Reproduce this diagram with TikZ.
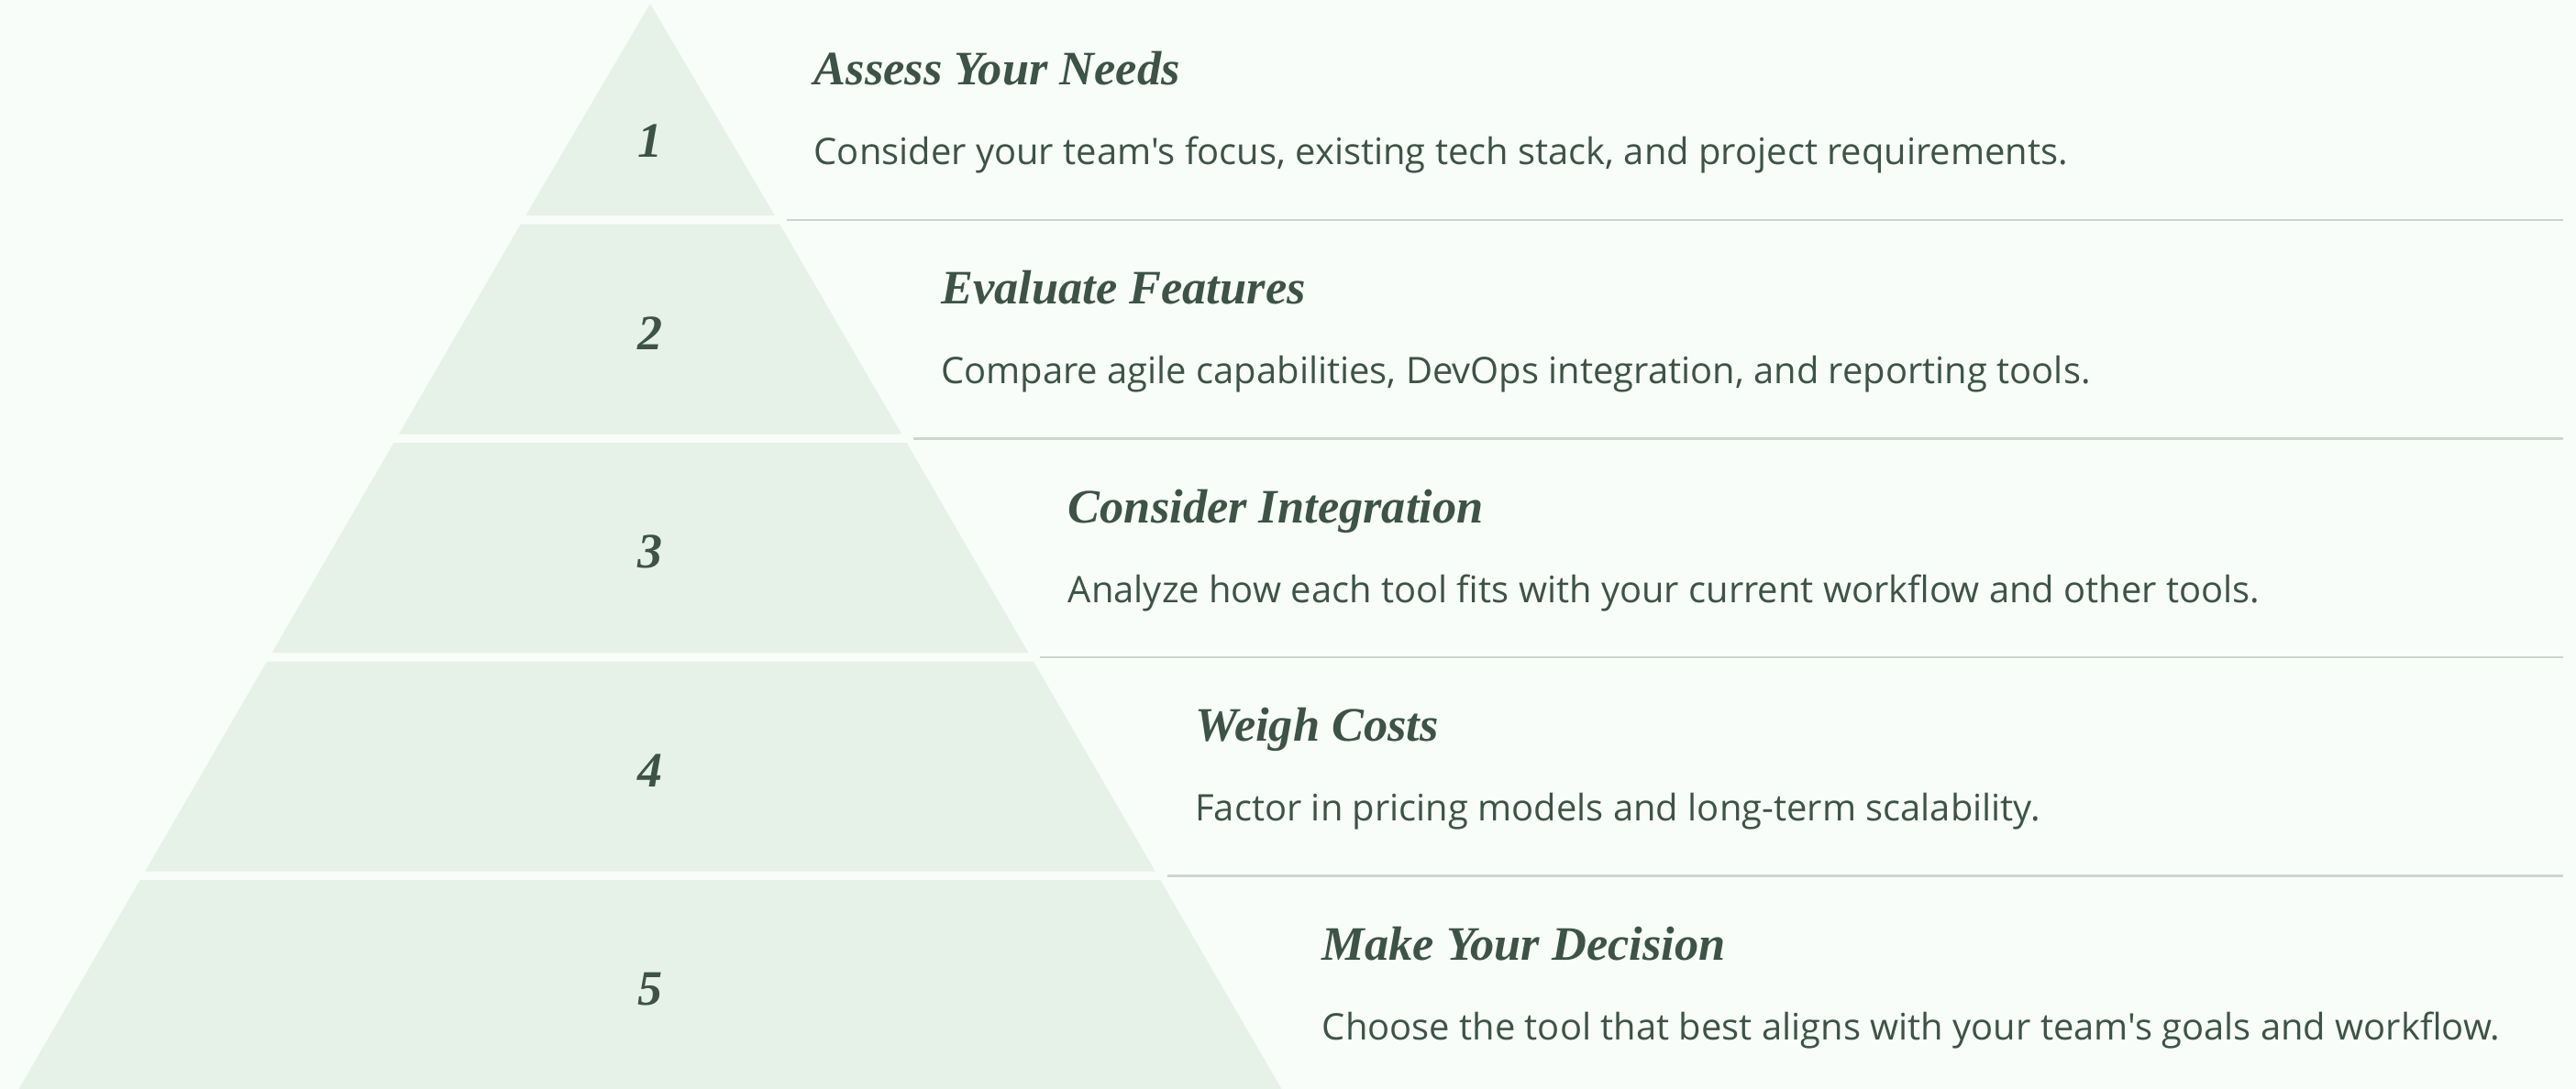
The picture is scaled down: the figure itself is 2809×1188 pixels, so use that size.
\documentclass[tikz,border=0pt]{standalone}
\usepackage{fontspec}
\setmainfont{Liberation Serif}
\newfontfamily\descfont{Open Sans}
\definecolor{pageBg}{RGB}{248,253,249}
\definecolor{tierFill}{RGB}{230,241,231}
\definecolor{ruleGrey}{RGB}{204,214,205}
\definecolor{inkGreen}{RGB}{61,83,71}

\begin{document}
\begin{tikzpicture}[x=0.25pt,y=0.25pt,yscale=-1,xscale=1,
  tier/.style={fill=tierFill,draw=none},
  sep/.style={draw=ruleGrey,line width=0.6pt},
  stepnum/.style={inner sep=0pt,text=inkGreen,font=\fontsize{13.5}{16}\selectfont\bfseries\itshape},
  steptitle/.style={anchor=base west,inner sep=0pt,text=inkGreen,font=\fontsize{13.1}{15}\selectfont\bfseries\itshape},
  stepdesc/.style={anchor=base west,inner sep=0pt,text=inkGreen,font=\descfont\fontsize{9.98}{12}\selectfont}]
%background, sets the size of the whole diagram
\fill[pageBg] (0,0) rectangle (2809,1188);
\useasboundingbox (0,0) rectangle (2809,1188);

%Shape: Tier 1 (top)
\fill[tier] (709,4) -- (844.7,235) -- (573.3,235) -- cycle ;
%Shape: Tier 2
\fill[tier] (567.8,244.5) -- (850.2,244.5) -- (983.1,473.5) -- (434.9,473.5) -- cycle ;
%Shape: Tier 3
\fill[tier] (429.4,483) -- (988.6,483) -- (1121.4,712) -- (296.6,712) -- cycle ;
%Shape: Tier 4
\fill[tier] (291.1,721.5) -- (1126.9,721.5) -- (1259.7,950.5) -- (158.3,950.5) -- cycle ;
%Shape: Tier 5 (base)
\fill[tier] (152.8,960) -- (1265.2,960) -- (1397.5,1188) -- (20.5,1188) -- cycle ;

%Rule ends
\coordinate (sepA1) at (857.6,240);
\coordinate (sepB1) at (2795,240);
\coordinate (sepA2) at (996,478.5);
\coordinate (sepB2) at (2795,478.5);
\coordinate (sepA3) at (1134.3,717);
\coordinate (sepB3) at (2795,717);
\coordinate (sepA4) at (1272.6,955.5);
\coordinate (sepB4) at (2795,955.5);
%Straight Lines
\draw[sep] (sepA1) -- (sepB1) ;
\draw[sep] (sepA2) -- (sepB2) ;
\draw[sep] (sepA3) -- (sepB3) ;
\draw[sep] (sepA4) -- (sepB4) ;

% Text Node
\node[stepnum] (num1) at (709,154) {1};
\node[stepnum] (num2) at (709,363.7) {2};
\node[stepnum] (num3) at (709,602.2) {3};
\node[stepnum] (num4) at (709,840.7) {4};
\node[stepnum] (num5) at (709,1079.2) {5};

% Text Node
\node[steptitle] (title1) at (887,93) {Assess Your Needs};
\node[stepdesc] (desc1) at (887,180) {Consider your team's focus, existing tech stack, and project requirements.};
% Text Node
\node[steptitle] (title2) at (1025.5,331.5) {Evaluate Features};
\node[stepdesc] (desc2) at (1025.5,418.5) {Compare agile capabilities, DevOps integration, and reporting tools.};
% Text Node
\node[steptitle] (title3) at (1164,570) {Consider Integration};
\node[stepdesc] (desc3) at (1164,657) {Analyze how each tool fits with your current workflow and other tools.};
% Text Node
\node[steptitle] (title4) at (1302.5,808.5) {Weigh Costs};
\node[stepdesc] (desc4) at (1302.5,895.5) {Factor in pricing models and long-term scalability.};
% Text Node
\node[steptitle] (title5) at (1441,1047) {Make Your Decision};
\node[stepdesc] (desc5) at (1441,1134) {Choose the tool that best aligns with your team's goals and workflow.};
\end{tikzpicture}
\end{document}
